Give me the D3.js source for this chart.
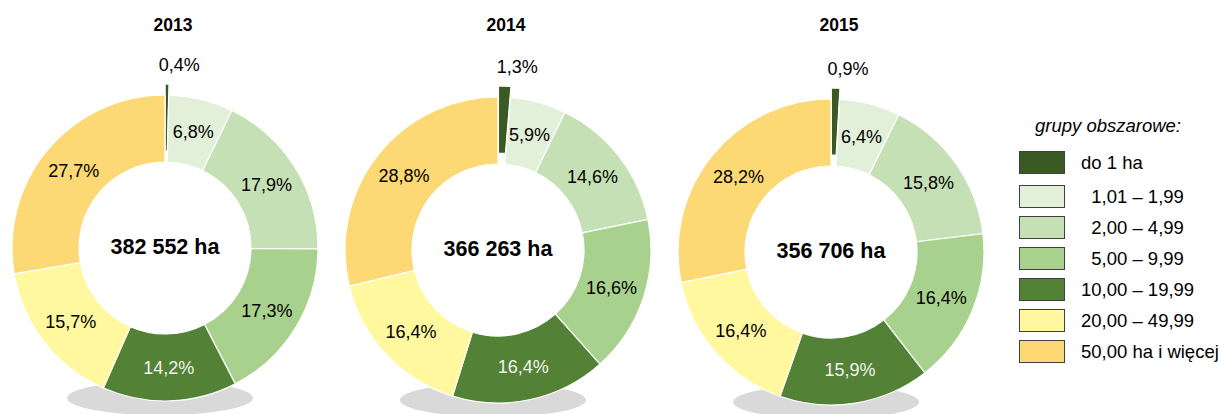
<!DOCTYPE html>
<html>
<head>
<meta charset="utf-8">
<script src="https://cdn.jsdelivr.net/npm/d3@7"></script>
<style>
  html, body { margin: 0; padding: 0; background: #fff; }
  svg { display: block; font-family: "Liberation Sans", Arial, sans-serif; }
</style>
</head>
<body>
<svg id="chart" width="1221" height="414"></svg>
<script>
// ---- data ----
const years = ["2013", "2014", "2015"];
const totals = [382552, 366263, 356706];
const groups = ["do 1 ha", "1,01 – 1,99", "2,00 – 4,99", "5,00 – 9,99", "10,00 – 19,99", "20,00 – 49,99", "50,00 ha i więcej"];
const legendLabels = ["do 1 ha", "  1,01 – 1,99", "  2,00 – 4,99", "  5,00 – 9,99", "10,00 – 19,99", "20,00 – 49,99", "50,00 ha i więcej"];
const share2013 = [0.4, 6.8, 17.9, 17.3, 14.2, 15.7, 27.7];
const share2014 = [1.3, 5.9, 14.6, 16.6, 16.4, 16.4, 28.8];
const share2015 = [0.9, 6.4, 15.8, 16.4, 15.9, 16.4, 28.2];
const colors = ["#3a5a23", "#e2efd9", "#c5e0b4", "#a9d18e", "#538135", "#fff89e", "#fcd975"];
const labelColors = ["#000", "#000", "#000", "#000", "#f2f2f2", "#000", "#000"];
const legendTitle = "grupy obszarowe:";

const shares = [share2013, share2014, share2015];

// ---- layout ----
const svg = d3.select("#chart");
const centersX = [165, 498, 831];
const centersY = [248, 250, 252];
const rOuter = 153, rInner = 86, explode = 11;

const locale = d3.formatLocale({decimal: ",", thousands: "\u00a0", grouping: [3], currency: ["", ""]});
const fmtPct = v => locale.format(".1f")(v) + "%";
const fmtTot = v => locale.format(",d")(v) + " ha";

const pie = d3.pie().sort(null).value(d => d);
const arc = d3.arc().innerRadius(rInner).outerRadius(rOuter);
const labelArc = d3.arc().innerRadius(rInner + 2).outerRadius(rOuter - 2);

years.forEach((yr, k) => {
  const cx = centersX[k], cy = centersY[k];
  // shadow
  svg.append("ellipse")
    .attr("cx", cx - 5).attr("cy", cy + 150)
    .attr("rx", 93).attr("ry", 17)
    .attr("fill", "#d9d9d9");

  const g = svg.append("g").attr("transform", `translate(${cx},${cy})`);
  const arcs = pie(shares[k]);

  g.selectAll("path.slice").data(arcs).join("path")
    .attr("class", "slice")
    .attr("d", arc)
    .attr("fill", (d, i) => colors[i])
    .attr("stroke", "#fff")
    .attr("stroke-width", 1.2)
    .attr("transform", (d, i) => {
      if (i !== 0) return null;
      const a = (d.startAngle + d.endAngle) / 2;
      return `translate(${Math.sin(a) * explode},${-Math.cos(a) * explode})`;
    });

  g.selectAll("text.pct").data(arcs).join("text")
    .attr("class", "pct")
    .attr("text-anchor", "middle")
    .attr("font-size", 18)
    .attr("fill", (d, i) => labelColors[i])
    .attr("x", (d, i) => {
      if (i === 0) {
        const a = (d.startAngle + d.endAngle) / 2;
        return Math.sin(a) * 180 + 12;
      }
      return labelArc.centroid(d)[0];
    })
    .attr("y", (d, i) => {
      if (i === 0) return -177;
      return labelArc.centroid(d)[1];
    })
    .attr("dy", (d, i) => i === 0 ? 0 : "0.35em")
    .text(d => fmtPct(d.data));

  g.append("text")
    .attr("text-anchor", "middle")
    .attr("dy", "0.27em")
    .attr("font-size", 21.5)
    .attr("font-weight", "bold")
    .attr("fill", "#000")
    .text(fmtTot(totals[k]));

  svg.append("text")
    .attr("x", cx + 8).attr("y", 31)
    .attr("text-anchor", "middle")
    .attr("font-size", 17.5)
    .attr("font-weight", "bold")
    .text(yr);
});

// ---- legend ----
const lg = svg.append("g");
lg.append("text")
  .attr("x", 1108).attr("y", 132)
  .attr("text-anchor", "middle")
  .attr("font-size", 18.5)
  .attr("font-style", "italic")
  .text(legendTitle);

const rowY = d3.scalePoint().domain(d3.range(1, groups.length)).range([185, 340]);
const rowTop = i => i === 0 ? 151 : rowY(i);

const rows = lg.selectAll("g.row").data(groups).join("g").attr("class", "row")
  .attr("transform", (d, i) => `translate(0,${rowTop(i)})`);
rows.append("rect")
  .attr("x", 1019.5).attr("y", 0.5)
  .attr("width", 45).attr("height", 22)
  .attr("fill", (d, i) => colors[i])
  .attr("stroke", "#404040").attr("stroke-width", 1);
rows.append("text")
  .attr("x", 1081).attr("y", 17.5)
  .attr("font-size", 18.5)
  .style("white-space", "pre")
  .text((d, i) => legendLabels[i]);
</script>
</body>
</html>
